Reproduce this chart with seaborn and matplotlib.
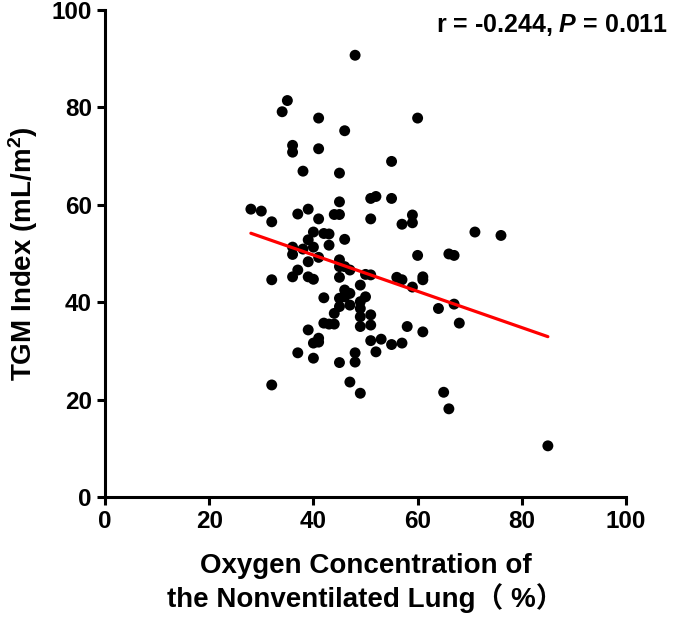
import pandas as pd
import matplotlib
matplotlib.use("Agg")
import matplotlib.pyplot as plt
import seaborn as sns

# oxygen concentration of the nonventilated lung (%) and TGM index (mL/m2)
oxygen = [48, 35, 34, 41, 60, 46, 36, 36, 41, 55, 38, 45,
          45, 51, 52, 55, 28, 30, 37, 39, 44, 45, 41, 32, 51, 59, 59, 57,
          40, 42, 43, 46, 39, 43, 36, 36, 38, 40, 39, 41, 60, 45, 45, 46, 47,
          37, 36, 39, 40, 32, 45, 50, 51, 56, 57, 61, 61, 59, 49,
          42, 46, 47, 45, 46, 50, 47, 49, 49, 45, 44, 49, 51,
          42, 43, 44, 49, 51, 39, 58, 61, 41, 40, 41, 51, 53, 55, 57,
          52, 37, 40, 48, 48, 45, 32, 47, 49,
          71, 76, 66, 67, 64, 67, 68, 65, 66, 85]
tgm = [90.7, 81.4, 79.1, 77.8, 77.8, 75.2, 72.2, 70.8, 71.5, 68.9, 66.9, 66.5,
       60.6, 61.3, 61.7, 61.3, 59.1, 58.7, 58.1, 59.1, 58.0, 58.0, 57.1, 56.5, 57.1, 57.9, 56.3, 56.0,
       54.4, 54.1, 54.0, 52.9, 52.8, 51.7, 51.3, 49.8, 50.9, 51.3, 48.3, 49.2, 49.6, 48.7, 47.3, 47.3, 46.6,
       46.6, 45.2, 45.2, 44.7, 44.6, 45.1, 45.7, 45.6, 45.1, 44.6, 45.2, 44.6, 43.1, 43.5,
       40.9, 42.5, 41.8, 40.8, 41.1, 41.1, 39.4, 40.1, 38.7, 39.1, 37.7, 37.0, 37.4,
       35.7, 35.5, 35.5, 35.0, 35.3, 34.3, 35.0, 33.9, 32.6, 31.6, 31.8, 32.1, 32.4, 31.3, 31.6,
       29.8, 29.6, 28.5, 29.6, 27.7, 27.6, 23.0, 23.6, 21.3,
       54.4, 53.7, 49.9, 49.6, 38.7, 39.6, 35.7, 21.5, 18.1, 10.5]
x_ticks = [0, 20, 40, 60, 80, 100]
y_ticks = [0, 20, 40, 60, 80, 100]

df = pd.DataFrame({"oxygen": oxygen, "tgm": tgm})

sns.set_style("ticks")
plt.rcParams["font.family"] = ["Liberation Sans", "Noto Sans CJK SC", "DejaVu Sans"]
plt.rcParams["font.weight"] = "bold"
plt.rcParams["text.color"] = "black"
plt.rcParams["axes.labelcolor"] = "black"
plt.rcParams["xtick.color"] = "black"
plt.rcParams["ytick.color"] = "black"
plt.rcParams["mathtext.fontset"] = "custom"
plt.rcParams["mathtext.rm"] = "Liberation Sans:bold"
plt.rcParams["mathtext.it"] = "Liberation Sans:italic:bold"
plt.rcParams["mathtext.bf"] = "Liberation Sans:bold"

fig = plt.figure(figsize=(6.85, 6.22), dpi=100)
ax = fig.add_axes([0.1533, 0.2010, 0.7606, 0.7830])

sns.regplot(data=df, x="oxygen", y="tgm", ax=ax, ci=None,
            scatter_kws={"s": 62, "color": "black", "edgecolor": "none", "alpha": 1},
            line_kws={"color": "#ff0000", "lw": 2.3})

ax.set_xlim(0, 100)
ax.set_ylim(0, 100)
ax.set_xticks(x_ticks)
ax.set_yticks(y_ticks)
ax.tick_params(labelsize=17.5, width=2.2, length=6, direction="out",
               color="black", labelcolor="black")
for lab in ax.get_xticklabels() + ax.get_yticklabels():
    lab.set_fontweight("bold")
sns.despine(ax=ax)
for side in ["left", "bottom"]:
    ax.spines[side].set_linewidth(2.2)
    ax.spines[side].set_color("black")

ax.set_xlabel("Oxygen Concentration of\nthe Nonventilated Lung（ %）",
              fontsize=20, fontweight="bold", labelpad=14, linespacing=1.2)
ax.set_ylabel("TGM Index (mL/m$^2$)", fontsize=20, fontweight="bold", labelpad=8)

fig.text(0.975, 1 - 25 / 622, "r = -0.244, $P$ = 0.011", ha="right", va="center",
         fontsize=18, fontweight="bold")

fig.savefig("out.png", dpi=100)
